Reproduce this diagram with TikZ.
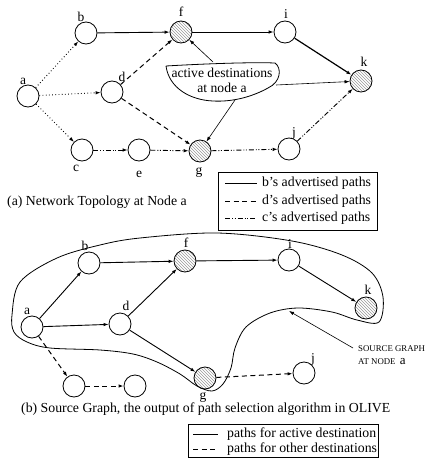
\documentclass[tikz,border=0pt]{standalone}
\usepackage{fontspec}
\setmainfont{Liberation Serif}
\usetikzlibrary{arrows.meta,patterns}
\begin{document}
\begin{tikzpicture}[x=1pt,y=-1pt,
 nd/.style={circle,draw,line width=0.8pt,minimum size=22pt,inner sep=0pt,fill=white},
 act/.style={circle,draw,line width=0.8pt,minimum size=22pt,inner sep=0pt,pattern=north west lines,pattern color=gray!80},
 lbl/.style={font=\fontsize{13.5}{13.5}\selectfont,inner sep=0pt},
 arr/.style={-{Latex[length=5pt,width=3.5pt]},line width=0.8pt},
 solidp/.style={arr,line width=0.9pt},
 dashp/.style={arr,dash pattern=on 5pt off 3.5pt,line width=1pt},
 dotp/.style={arr,dash pattern=on 0.8pt off 2.4pt,line width=0.9pt},
 ddp/.style={arr,dash pattern=on 5pt off 2pt on 1pt off 1.5pt on 1pt off 2pt,line width=0.9pt},
 thinarr/.style={-{Latex[length=5pt,width=3.5pt]},line width=0.6pt},
 txt/.style={font=\fontsize{13.8}{14}\selectfont,inner sep=0pt,anchor=west},
 caltxt/.style={font=\fontsize{13.6}{14}\selectfont,inner sep=0pt,anchor=base}
]
\useasboundingbox (0,0) rectangle (429,458);
% ---------- (a) ----------
\node[nd] (a) at (28,96) {};
\node[nd] (b) at (86,33) {};
\node[nd] (d) at (112,92) {};
\node[nd] (c) at (82,150) {};
\node[nd] (e) at (139,150) {};
\node[act] (f) at (181,32) {};
\node[act] (g) at (200,151) {};
\node[nd] (i) at (285,32) {};
\node[act] (k) at (361,81) {};
\node[nd] (j) at (289,149) {};
\node[lbl] (la) at (23,81) {a};
\node[lbl] (lb) at (81,17) {b};
\node[lbl] (ld) at (122,77) {d};
\node[lbl] (lc) at (76,168) {c};
\node[lbl] (le) at (139,174) {e};
\node[lbl] (lf) at (181,12) {f};
\node[lbl] (lg) at (199,172) {g};
\node[lbl] (li) at (286,14) {i};
\node[lbl] (lk) at (364,62) {k};
\node[lbl] (lj) at (294,133) {j};

\draw[dotp] (a) -- (b);
\draw[dotp] (a) -- (d);
\draw[dotp] (a) -- (c);
\draw[solidp] (b) -- (f);
\draw[solidp] (f) -- (i);
\draw[solidp,line width=1.2pt] (i) -- (k);
\draw[dashp] (d) -- (f);
\draw[dashp] (d) -- (g);
\draw[ddp] (c) -- (e);
\draw[ddp] (e) -- (g);
\draw[ddp] (g) -- (j);
\draw[ddp] (j) -- (k);

% callout
\draw[line width=0.8pt] (166,66) .. controls (200,64) and (250,62) .. (275,63)
  .. controls (282,68) and (281,82) .. (268,88)
  .. controls (250,98) and (230,102) .. (213,101)
  .. controls (190,100) and (169,88) .. (166,66);
\node[caltxt] (cal1) at (222,77.5) {active destinations};
\node[caltxt] (cal2) at (222,92.5) {at node a};
\coordinate (c1) at (213,62);
\coordinate (c2) at (276,85);
\coordinate (c3) at (235,100);
\draw[thinarr] (c1) -- (f);
\draw[thinarr] (c2) -- (k);
\draw[thinarr] (c3) -- (g);

% legend (a)
\node[draw,line width=0.8pt,anchor=north west,minimum width=159pt,minimum height=58pt,inner sep=0pt] (lega) at (218,172) {};
\coordinate (s1a) at (225,183); \coordinate (s1b) at (257,183);
\coordinate (s2a) at (225,201); \coordinate (s2b) at (257,201);
\coordinate (s3a) at (225,218); \coordinate (s3b) at (257,218);
\draw[line width=1pt] (s1a) -- (s1b);
\draw[line width=1pt,dash pattern=on 5pt off 3.5pt] (s2a) -- (s2b);
\draw[line width=1pt,dash pattern=on 5pt off 2pt on 1pt off 1.5pt on 1pt off 2pt] (s3a) -- (s3b);
\node[txt] (t1) at (262,183) {b’s advertised paths};
\node[txt] (t2) at (262,201) {d’s advertised paths};
\node[txt] (t3) at (262,218) {c’s advertised paths};

\node[txt] (capa) at (7,202) {(a) Network Topology at Node a};

% ---------- (b) ----------
\draw[line width=0.8pt] plot[smooth cycle,tension=0.55] coordinates {
 (12,315) (20,282) (57,258) (100,245) (140,238) (217,233) (292,241) (342,255)
 (372,273) (383,297) (379,322) (357,320) (332,312) (298,308) (270,313) (246,327)
 (235,348) (231,368) (223,384) (212,391) (197,386) (180,374) (157,362) (133,354)
 (100,350) (50,348) (27,342) (14,332)};

\node[nd] (a2) at (32,327) {};
\node[nd] (b2) at (89,263) {};
\node[act] (f2) at (185,261) {};
\node[nd] (d2) at (120,324) {};
\node[nd] (i2) at (289,260) {};
\node[act] (k2) at (366,308) {};
\node[act] (g2) at (205,378) {};
\node[nd] (j2) at (304,373) {};
\node[nd] (u1) at (74,386) {};
\node[nd] (u2) at (135,386) {};
\node[lbl] (la2) at (27,311) {a};
\node[lbl] (lb2) at (85,246) {b};
\node[lbl] (lf2) at (186,243) {f};
\node[lbl] (ld2) at (126,306) {d};
\node[lbl] (li2) at (290,244) {i};
\node[lbl] (lk2) at (368,290) {k};
\node[lbl] (lg2) at (203,397) {g};
\node[lbl] (lj2) at (313,359) {j};

\draw[solidp] (a2) -- (b2);
\draw[solidp] (a2) -- (d2);
\draw[solidp] (b2) -- (f2);
\draw[solidp] (d2) -- (f2);
\draw[solidp] (f2) -- (i2);
\draw[solidp] (i2) -- (k2);
\draw[solidp] (d2) -- (g2);
\draw[dashp] (a2) -- (u1);
\draw[dashp] (u1) -- (u2);
\draw[dashp] (g2) -- (j2);

\coordinate (sgtail) at (353,348);
\coordinate (sgtip) at (289,311);
\draw[thinarr] (sgtail) -- (sgtip);
\node[font=\fontsize{8.8}{10}\selectfont,inner sep=0pt,anchor=west] (sg1) at (358,349) {SOURCE GRAPH};
\node[font=\fontsize{8.8}{10}\selectfont,inner sep=0pt,anchor=west] (sg2) at (358,362) {AT NODE\ \ {\fontsize{13}{13}\selectfont a}};

\node[txt] (capb) at (21,409) {(b) Source Graph, the output of path selection algorithm in OLIVE};

% legend (b)
\node[draw,line width=0.8pt,anchor=north west,minimum width=190pt,minimum height=33pt,inner sep=0pt] (legb) at (188,424) {};
\coordinate (p1a) at (193,434); \coordinate (p1b) at (218,434);
\coordinate (p2a) at (193,449); \coordinate (p2b) at (218,449);
\draw[line width=1pt] (p1a) -- (p1b);
\draw[line width=1pt,dash pattern=on 5pt off 3.5pt] (p2a) -- (p2b);
\node[txt] (pt1) at (227,434) {paths for active destination};
\node[txt] (pt2) at (227,449) {paths for other destinations};
\end{tikzpicture}
\end{document}
